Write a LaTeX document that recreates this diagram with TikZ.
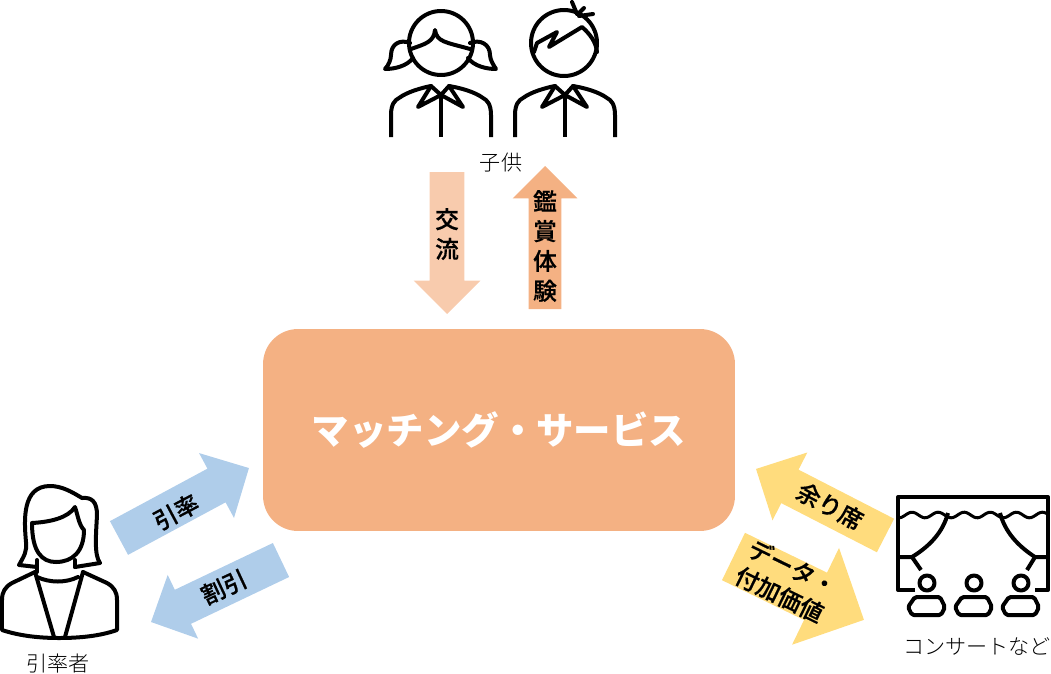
\documentclass[tikz,border=0pt]{standalone}
\usepackage{fontspec}
\setmainfont{Noto Sans CJK JP}
\newfontfamily\lightjp{Noto Sans CJK JP Light}
\newfontfamily\mediumjp[FakeBold=0.6]{Noto Sans CJK JP Medium}
\usepackage{tikz}
\usetikzlibrary{shapes.arrows}
\definecolor{myorange}{HTML}{F4B183}
\definecolor{mypeach}{HTML}{F8CBAD}
\definecolor{myblue}{HTML}{AFCDEA}
\definecolor{myyellow}{HTML}{FFDC7D}
\tikzset{
    iconline/.style={draw=black,line width=0.08cm,line join=round,line cap=round},
    blockarrow/.style n args={3}{single arrow,anchor=tail,draw=none,outer sep=0pt,inner xsep=0pt,
        inner ysep=0.01cm*#1,single arrow head extend=0.01cm*(#2-#1),
        single arrow head indent=0pt,minimum width=0pt,minimum height=0.02cm*#3},
    arrowlabel/.style={font=\fontsize{13.5}{17}\selectfont\mediumjp,align=center,inner sep=0pt},
    iconlabel/.style={font=\fontsize{12}{14}\selectfont\lightjp,inner sep=0pt},
    pupilbody/.pic={
        \draw[iconline,line cap=butt] (-50,137) -- (-50,115) .. controls (-50,104) and (-46,100) .. (-42,98)
            .. controls (-34,92) and (-20,88) .. (-10,86) -- (0,95) -- (8,86)
            .. controls (20,88) and (34,92) .. (42,98) .. controls (46,100) and (50,104) .. (50,115) -- (50,137);
        \draw[iconline,line cap=butt] (0,95) -- (0,137);
        \draw[iconline] (-10,86) -- (-23,107) -- (0,95) -- (22,107) -- (8,86);
    }
}
\begin{document}
\begin{tikzpicture}[x=0.02cm,y=-0.02cm]
    \useasboundingbox (0,0) rectangle (1051,673);

    % Centre box
    \node[fill=myorange,rounded corners=0.7cm,minimum width=9.44cm,minimum height=4.04cm,inner sep=0pt,
          font=\fontsize{21.3}{25}\selectfont\bfseries,text=white] (service) at (499,430)
          {\raisebox{0.05cm}{マッチング・サービス}};

    % Arrows
    \node[blockarrow={34}{66}{142},fill=mypeach,rotate=-90] (koryu) at (447,172) {};
    \node[blockarrow={32}{64}{143},fill=myorange,rotate=90] (kansho) at (545,309) {};
    \node[blockarrow={37.6}{73}{147.6},fill=myblue,rotate=28.3] (inritsu) at (119,538) {};
    \node[blockarrow={37}{70}{144},fill=myblue,rotate=205.5] (waribiki) at (281,560) {};
    \node[blockarrow={37}{75.6}{145.6},fill=myyellow,rotate=152.8] (amari) at (885.5,535.5) {};
    \node[blockarrow={52}{107}{145},fill=myyellow,rotate=-25.9] (deta) at (733.5,556.5) {};

    % Arrow labels
    \node[arrowlabel] (koryulabel) at (447,234) {交\\流};
    \node[arrowlabel] (kansholabel) at (545,246) {鑑\\賞\\体\\験};
    \node[arrowlabel,rotate=28] (inritsulabel) at (176,512) {引率};
    \node[arrowlabel,rotate=25] (waribikilabel) at (224,587) {割引};
    \node[arrowlabel,rotate=-28] (amarilabel) at (830,506) {余り席};
    \node[arrowlabel,rotate=-26] (detalabel) at (786,581) {データ・\\付加価値};

    % Girl
    \draw[iconline] (441,43) circle (32);
    \draw[iconline] (411,49) .. controls (425,44) and (434,42) .. (435,30) .. controls (437,42) and (445,42) .. (470,49);
    \draw[iconline] (410,43) .. controls (400,39) and (391,44) .. (391,55) .. controls (391,60) and (388,66) .. (385,69)
        .. controls (395,69) and (407,66) .. (413,58);
    \draw[iconline] (470,43) .. controls (480,39) and (490,44) .. (490,55) .. controls (490,60) and (494,66) .. (496,69)
        .. controls (486,69) and (474,66) .. (468,58);
    \pic at (441,0) {pupilbody};

    % Boy
    \draw[iconline] (564,43) circle (33);
    \draw[iconline] (534,52) -- (537,43) -- (557,32) -- (549,47) -- (582,27) .. controls (590,34) and (596,42) .. (597,52);
    \draw[iconline] (572,2) -- (577,14) (584,8) -- (578,14) (593,14) -- (579,16);
    \pic at (565,0) {pupilbody};
    \node[iconlabel] (pupil) at (501,163) {子供};

    % Woman
    \draw[iconline] (37,567) -- (19,565) .. controls (24,556) and (27,552) .. (26,542) .. controls (24,520) and (22,486) .. (50,486)
        .. controls (62,486) and (72,492) .. (82,498) .. controls (92,497) and (97,502) .. (97,515)
        .. controls (96,535) and (94,555) .. (100,563) -- (75,567);
    \draw[iconline] (32,523) .. controls (50,522) and (68,518) .. (75,507) .. controls (78,516) and (79,525) .. (84,530)
        .. controls (84,552) and (72,562) .. (56,562) .. controls (42,562) and (32,552) .. (32,523);
    \draw[iconline] (37,560) -- (37,572) (75,560) -- (75,567);
    \draw[iconline] (35,572) -- (12,583) .. controls (5,587) and (2,592) .. (2,600) -- (2,630)
        .. controls (20,636) and (40,638) .. (59,638) .. controls (80,638) and (100,636) .. (117,630) -- (117,600)
        .. controls (117,592) and (114,587) .. (107,583) -- (83,572);
    \draw[iconline] (35,572) -- (54,637) (83,572) -- (65,637);
    \draw[iconline] (37,577) .. controls (50,583) and (66,583) .. (78,577);
    \node[iconlabel] (leader) at (58,664) {引率者};

    % Theatre
    \draw[iconline,line cap=butt] (915,590) -- (898,590) -- (898,497) -- (1048,497) -- (1048,590) -- (1035,590);
    \draw[iconline,line width=0.06cm] plot[domain=898:1048,samples=80] (\x,{515-2.8*cos((\x-912)*13.8)});
    \draw[iconline,line cap=butt] (948,513) .. controls (943,532) and (930,546) .. (912,557) -- (898,557);
    \draw[iconline,line cap=butt] (912,557) -- (921,570);
    \draw[iconline,line cap=butt] (1000,513) .. controls (1005,532) and (1018,546) .. (1035,557) -- (1048,557);
    \draw[iconline,line cap=butt] (1035,557) -- (1027,570);
    \foreach \seat in {927,974,1021} {
        \draw[iconline] (\seat,583) circle (7.5);
        \draw[iconline,rounded corners=1pt] (\seat-12,597) -- (\seat+13,597) -- (\seat+18,607) -- (\seat+14,615)
            -- (\seat-15,615) -- (\seat-19,607) -- cycle;
    }
    \node[iconlabel] (concert) at (977,647) {コンサートなど};
\end{tikzpicture}
\end{document}
